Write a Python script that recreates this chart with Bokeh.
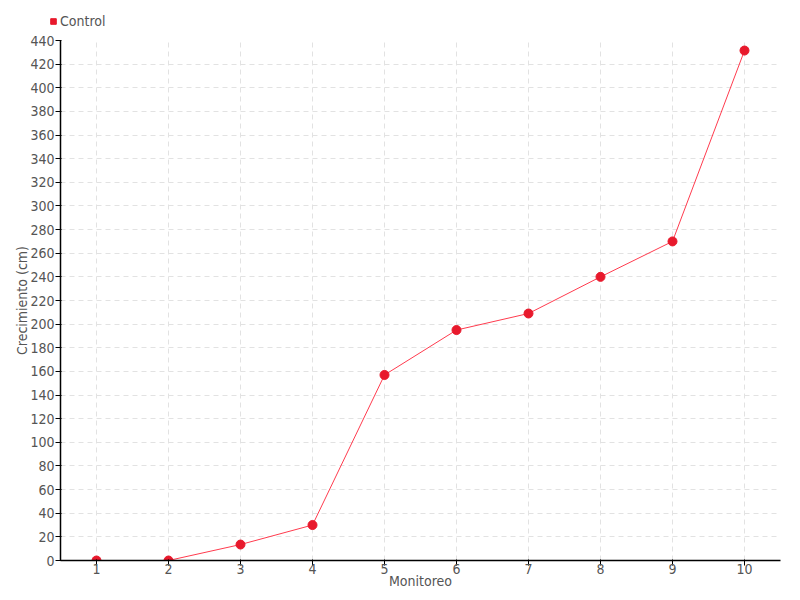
from bokeh.plotting import figure
from bokeh.models import Range1d, FixedTicker, Legend, LegendItem
from bokeh.embed import file_html
from bokeh.resources import INLINE

monitoreo = [1, 2, 3, 4, 5, 6, 7, 8, 9, 10]
control = [0, 0, 13.5, 30, 157, 195, 209, 240, 270, 431.5]
y_ticks = list(range(0, 441, 20))

FONT = "'DejaVu Sans Condensed', 'Liberation Sans Narrow', Roboto, sans-serif"
TXT = "#555555"
RED = "#e8192c"

# legend strip (its own figure; the series is out of its view, only the legend shows)
lf = figure(width=800, height=30, output_backend="svg", toolbar_location=None,
            x_range=Range1d(0, 800), y_range=Range1d(-1000, -970),
            min_border_left=0, min_border_right=0, min_border_top=0, min_border_bottom=0,
            x_axis_type=None, y_axis_type=None)
lf.outline_line_color = None
lf.xgrid.visible = False
lf.ygrid.visible = False
sq = lf.scatter(monitoreo, control, marker="square", size=7, fill_color=RED, line_color=RED)
legend = Legend(items=[LegendItem(label="Control", renderers=[sq])],
                location=(46, 1), orientation="horizontal",
                border_line_color=None, background_fill_alpha=0,
                glyph_width=14, glyph_height=14, label_standoff=-1,
                padding=0, margin=0, spacing=0, label_height=14,
                label_text_font=FONT, label_text_font_size="14px",
                label_text_color=TXT)
lf.add_layout(legend)

p = figure(width=800, height=570, output_backend="svg",
           toolbar_location=None, x_range=Range1d(0.5, 10.5), y_range=Range1d(0, 440),
           min_border_left=60, min_border_right=20, min_border_top=10, min_border_bottom=40)
p.outline_line_color = None

p.line(monitoreo, control, line_color="#ff3b4e", line_width=1)
p.scatter(monitoreo, control, size=9, fill_color=RED, line_color=RED)

for ax in (p.xaxis, p.yaxis):
    ax.axis_line_color = "black"
    ax.axis_line_width = 1.5
    ax.major_tick_line_color = "black"
    ax.major_tick_in = 1
    ax.major_tick_out = 5
    ax.minor_tick_line_color = None
    ax.major_label_text_font = FONT
    ax.major_label_text_font_size = "14px"
    ax.major_label_text_color = TXT
    ax.axis_label_text_font = FONT
    ax.axis_label_text_font_size = "14px"
    ax.axis_label_text_font_style = "normal"
    ax.axis_label_text_color = TXT

p.xaxis.ticker = FixedTicker(ticks=monitoreo)
p.yaxis.ticker = FixedTicker(ticks=y_ticks)
p.xaxis.axis_label = "Monitoreo"
p.yaxis.axis_label = "Crecimiento (cm)"
p.xaxis.major_label_standoff = -2
p.xaxis.axis_label_standoff = -4
p.yaxis.major_label_standoff = 1
p.yaxis.axis_label_standoff = -3

for g in (p.xgrid, p.ygrid):
    g.grid_line_color = "#e2e2e2"
    g.grid_line_dash = "5 4"
    g.grid_line_width = 1
p.xgrid.ticker = FixedTicker(ticks=monitoreo)
p.ygrid.ticker = FixedTicker(ticks=y_ticks)

open("out.html", "w").write(file_html([lf, p], INLINE))
